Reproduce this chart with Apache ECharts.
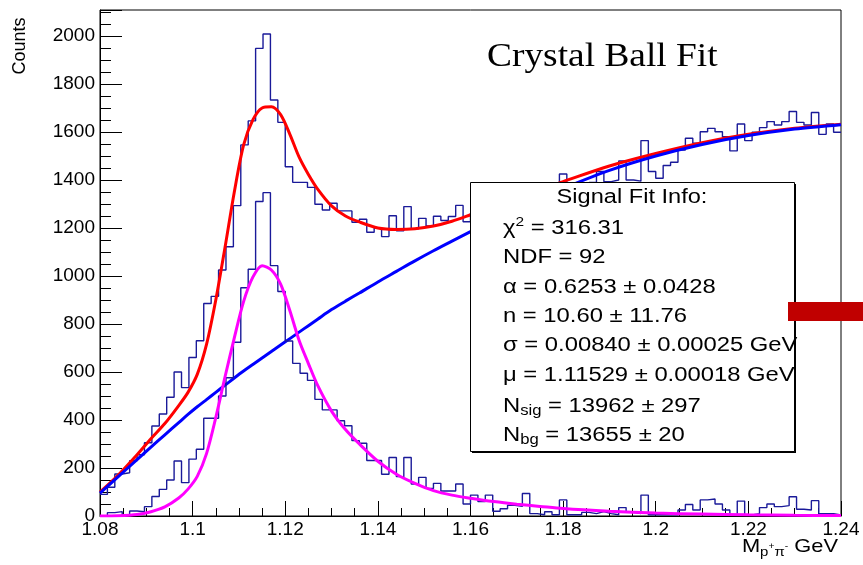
<!DOCTYPE html>
<html><head><meta charset="utf-8">
<script src="https://cdn.jsdelivr.net/npm/echarts@6/dist/echarts.min.js"></script>
<style>html,body{margin:0;padding:0;background:#fff;}#c{width:863px;height:565px;}</style>
</head><body><div id="c"></div>
<script>
// ---- histogram binning ----
const binLow = 1.08;
const binWidth = 0.0016;

// total (signal + background) counts, 100 bins
const totalCounts = [
  90,120,175,180,230,255,305,375,425,495,
  600,535,660,730,885,915,1025,1122,1293,1546,
  1646,1948,2008,1733,1640,1455,1390,1390,1369,1299,
  1275,1303,1271,1271,1224,1236,1182,1199,1164,1251,
  1188,1289,1196,1240,1208,1249,1231,1248,1294,1226,
  1262,1245,1290,1268,1305,1282,1330,1316,1352,1338,
  1370,1360,1425,1370,1385,1362,1390,1435,1393,1400,
  1479,1400,1395,1564,1435,1407,1460,1474,1525,1574,
  1553,1601,1615,1601,1580,1521,1633,1564,1599,1618,
  1643,1629,1643,1685,1640,1629,1681,1590,1633,1599
];

// background-subtracted (signal) counts, 100 bins
const signalCounts = [
  0,14,18,5,21,18,39,81,111,150,
  229,139,237,278,407,407,500,576,724,951,
  1028,1310,1347,1043,935,729,636,595,565,486,
  442,442,397,376,314,303,231,231,174,244,
  164,244,133,161,115,136,104,104,133,50,
  87,60,87,20,30,45,40,94,10,5,
  18,5,67,5,5,15,10,18,10,5,
  35,15,10,87,5,5,5,5,25,48,
  25,67,71,50,25,4,62,4,10,35,
  50,39,43,80,28,25,64,10,10,4
];

// fitted curves
const fitMass = [1.080,1.084,1.088,1.091,1.094,1.097,1.099,1.101,1.103,1.105,1.107,1.109,1.111,1.113,1.115,1.117,1.119,1.121,1.123,1.125,1.127,1.130,1.133,1.136,1.140,1.144,1.148,1.152,1.156,1.160,1.165,1.170,1.175,1.180,1.190,1.200,1.210,1.220,1.230,1.240];
const bgFit  = [95,165,235,287,338,389,423,455,485,515,545,575,604,631,658,685,712,739,766,793,820,860,895,929,975,1019,1063,1105,1145,1185,1233,1280,1323,1365,1440,1500,1548,1585,1612,1630];
const sigFit = [0,1,6,18,38,75,112,165,260,410,580,742,893,995,1043,1025,966,855,731,635,544,437,360,300,228,174,136,106,87,74,60,49,40,31,20,12,8,5,3,2];
const totFit = [100,172,255,322,385,460,515,590,715,900,1120,1350,1545,1650,1700,1705,1672,1590,1495,1423,1362,1292,1250,1225,1200,1194,1197,1208,1228,1255,1290,1326,1360,1393,1458,1510,1555,1590,1615,1632];

// fit info text
const infoTitle = 'Signal Fit Info:';
const infoLines = [
  'χ{sup|2} = 316.31',
  'NDF = 92',
  'α = 0.6253 ± 0.0428',
  'n = 10.60 ± 11.76',
  'σ = 0.00840 ± 0.00025 GeV',
  'μ = 1.11529 ± 0.00018 GeV',
  'N{sub|sig} = 13962 ± 297',
  'N{sub|bg} = 13655 ± 20'
];
const plotTitle = 'Crystal Ball Fit';
const yTitle = 'Counts';

const FONT = '"Liberation Sans", Arial, Helvetica, sans-serif';
const SERIF = '"Liberation Serif", "Times New Roman", serif';

function r6(v){ return Math.round(v*1e6)/1e6; }
function histData(counts){
  const d = [];
  for (let i = 0; i < counts.length; i++) d.push([r6(binLow + i*binWidth), counts[i]]);
  d.push([r6(binLow + counts.length*binWidth), counts[counts.length-1]]);
  return d;
}
function curve(ys){ return fitMass.map((m,i)=>[m, ys[i]]); }

const chart = echarts.init(document.getElementById('c'), null, {renderer:'canvas'});

const infoLineY = [228, 257, 287, 316, 345, 375, 406, 435];
const graphics = [];
graphics.push({type:'text', x:20, y:46, rotation:Math.PI/2, z:100,
  style:{text:yTitle, font:'18px '+FONT, fill:'#000', textAlign:'center', textVerticalAlign:'middle'}});
graphics.push({type:'text', x:487, y:57, z:100, scaleX:1.1,
  style:{text:plotTitle, font:'34px '+SERIF, fill:'#000', textAlign:'left', textVerticalAlign:'middle'}});
graphics.push({type:'rect', z:100, shape:{x:472, y:184, width:324, height:269}, style:{fill:'#000'}});
graphics.push({type:'rect', z:101, shape:{x:470.5, y:182.5, width:324, height:269}, style:{fill:'#fff', stroke:'#000', lineWidth:1}});
graphics.push({type:'text', x:632, y:197, z:102, scaleX:1.18,
  style:{text:infoTitle, font:'20px '+FONT, fill:'#000', textAlign:'center', textVerticalAlign:'middle'}});
infoLines.forEach((t,i)=>{
  graphics.push({type:'text', x:503, y:infoLineY[i], z:102, scaleX:1.19,
    style:{text:t, fill:'#000', textAlign:'left', textVerticalAlign:'middle', fontFamily:FONT, fontSize:20,
      rich:{
        sup:{fontSize:13, fontFamily:FONT, padding:[0,0,12,0]},
        sub:{fontSize:14, fontFamily:FONT, padding:[10,0,0,0]}
      }}});
});
graphics.push({type:'rect', z:103, shape:{x:788, y:302, width:75, height:19}, style:{fill:'#c00000'}});
graphics.push({type:'text', x:838, y:547, z:100, scaleX:1.15,
  style:{text:'{m|M}{s|p}{ss|+}{s|π}{ss|-}{m| GeV}', textAlign:'right', textVerticalAlign:'middle', fontFamily:FONT, fontSize:19, fill:'#000',
    rich:{m:{fontSize:19, fontFamily:FONT}, s:{fontSize:13, fontFamily:FONT, padding:[11,0,0,0]}, ss:{fontSize:9, fontFamily:FONT, padding:[0,0,0,0]}}}});

const option = {
  animation:false,
  backgroundColor:'#fff',
  grid:{left:100, right:22, top:10, bottom:49, show:true, borderColor:'#000', borderWidth:1, containLabel:false},
  xAxis:[
    {type:'value', min:1.08, max:1.24, interval:0.02, position:'bottom',
     axisLine:{show:true, onZero:false, lineStyle:{color:'#000', width:1}},
     axisTick:{show:true, inside:true, length:15, lineStyle:{color:'#000', width:1}},
     axisLabel:{show:true, fontFamily:FONT, fontSize:19, color:'#000', margin:4,
       formatter:v=>String(parseFloat(v.toFixed(2)))},
     splitLine:{show:false}},
    {type:'value', min:1.08, max:1.24, interval:0.005, position:'bottom',
     axisLine:{show:false, onZero:false},
     axisTick:{show:true, inside:true, length:8, lineStyle:{color:'#000', width:1}},
     axisLabel:{show:false}, splitLine:{show:false}}
  ],
  yAxis:[
    {type:'value', min:0, max:2108, interval:200, position:'left',
     axisLine:{show:true, onZero:false, lineStyle:{color:'#000', width:1}},
     axisTick:{show:true, inside:true, length:22, lineStyle:{color:'#000', width:1}},
     axisLabel:{show:true, fontFamily:FONT, fontSize:19, color:'#000', margin:5,
       formatter:v=> (Math.abs(v % 200) < 1e-6 ? String(v) : '')},
     splitLine:{show:false}},
    {type:'value', min:0, max:2108, interval:50, position:'left',
     axisLine:{show:false, onZero:false},
     axisTick:{show:true, inside:true, length:11, lineStyle:{color:'#000', width:1}},
     axisLabel:{show:false}, splitLine:{show:false}}
  ],
  series:[
    {type:'line', name:'total', step:'end', data:histData(totalCounts), symbol:'none',
     lineStyle:{color:'#1a1a99', width:1.4}, z:2},
    {type:'line', name:'totalFit', data:curve(totFit), symbol:'none', smooth:0.3,
     lineStyle:{color:'#ff0000', width:3}, z:3},
    {type:'line', name:'bgFit', data:curve(bgFit), symbol:'none', smooth:0.3,
     lineStyle:{color:'#0000ff', width:3}, z:4},
    {type:'line', name:'signal', step:'end', data:histData(signalCounts), symbol:'none',
     lineStyle:{color:'#1a1a99', width:1.4}, z:5},
    {type:'line', name:'sigFit', data:curve(sigFit), symbol:'none', smooth:0.3,
     lineStyle:{color:'#ff00ff', width:3}, z:6}
  ],
  graphic:graphics
};
chart.setOption(option);
</script></body></html>
